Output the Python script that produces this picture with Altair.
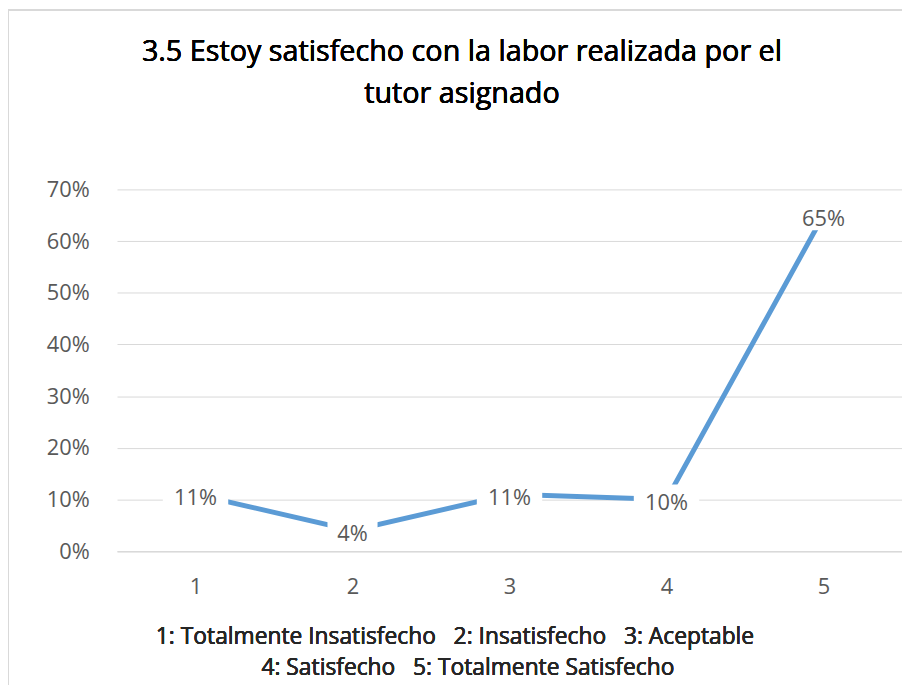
import altair as alt
import pandas as pd

categories = ["1", "2", "3", "4", "5"]
values = [0.11, 0.04, 0.11, 0.10, 0.65]
labels = ["11%", "4%", "11%", "10%", "65%"]
y_ticks = [0, 0.1, 0.2, 0.3, 0.4, 0.5, 0.6, 0.7]
title_lines = ["3.5 Estoy satisfecho con la labor realizada por el", "tutor asignado"]
NB = "\u00a0"
footer_lines = ["1:" + NB + "Totalmente Insatisfecho" + NB * 3 + "2:" + NB + "Insatisfecho" + NB * 3 + "3:" + NB + "Aceptable",
                "4:" + NB + "Satisfecho" + NB * 3 + "5:" + NB + "Totalmente Satisfecho"]

df = pd.DataFrame({"cat": categories, "val": values, "label": labels})

FONT = "Open Sans"
x_enc = alt.X("cat:N", sort=categories,
              scale=alt.Scale(paddingInner=0, paddingOuter=0.5),
              axis=alt.Axis(title=None, labelAngle=0, labelFontSize=22,
                            labelColor="#595959", labelPadding=26, ticks=False,
                            labelFontWeight="normal",
                            domainColor="#D9D9D9", domainWidth=1.5, labelFont=FONT))
y_enc = alt.Y("val:Q", scale=alt.Scale(domain=[0, 0.7]),
              axis=alt.Axis(values=y_ticks, format=".0%", title=None, domain=False,
                            ticks=False, labelFontSize=22, labelColor="#595959",
                            labelFontWeight="normal",
                            labelPadding=28, gridColor="#D9D9D9", gridWidth=1,
                            labelFont=FONT))

base = alt.Chart(df)
line = base.mark_line(color="#5B9BD5", strokeWidth=5, strokeCap="butt").encode(x=x_enc, y=y_enc)

box3 = base.transform_filter("length(datum.label) == 3").mark_point(
    shape="M-1,-0.46H1V0.46H-1Z", filled=True, fill="white", opacity=1, size=4356
).encode(x=alt.X("cat:N", sort=categories), y="val:Q")
box2 = base.transform_filter("length(datum.label) == 2").mark_point(
    shape="M-1,-0.62H1V0.62H-1Z", filled=True, fill="white", opacity=1, size=2550
).encode(x=alt.X("cat:N", sort=categories), y="val:Q")

text = base.mark_text(fontSize=22, font=FONT, fontWeight=400, color="#595959",
                      baseline="middle", dy=4).encode(
    x=alt.X("cat:N", sort=categories), y="val:Q", text="label:N")

tstyle = dict(fontSize=29, font=FONT, fontWeight=400, color="#000000", baseline="middle")
title1 = base.mark_text(**tstyle).encode(
    x=alt.value(348), y=alt.value(-139), text=alt.value(title_lines[0]))
title2 = base.mark_text(**tstyle).encode(
    x=alt.value(348), y=alt.value(-96), text=alt.value(title_lines[1]))
fstyle = dict(fontSize=23, font=FONT, fontWeight=400, color="#262626", baseline="middle")
foot1 = base.mark_text(**fstyle).encode(
    x=alt.value(341), y=alt.value(452), text=alt.value(footer_lines[0]))
foot2 = base.mark_text(**fstyle).encode(
    x=alt.value(354), y=alt.value(483), text=alt.value(footer_lines[1]))

border_top = base.mark_rule(color="#D9D9D9", strokeWidth=2).encode(
    x=alt.value(-111), x2=alt.value(800), y=alt.value(-181))
border_left = base.mark_rule(color="#D9D9D9", strokeWidth=2).encode(
    x=alt.value(-110), y=alt.value(-182), y2=alt.value(600))

chart = alt.layer(line, box3, box2, text, title1, title2, foot1, foot2,
                  border_top, border_left).properties(
    width=792, height=365,
    autosize=alt.AutoSizeParams(type="none"),
    padding={"left": 110, "top": 180, "right": 0, "bottom": 132},
).configure_view(stroke=None).configure_axisX(grid=False)

chart.save("out.html", embed_options={"renderer": "svg", "actions": False})
